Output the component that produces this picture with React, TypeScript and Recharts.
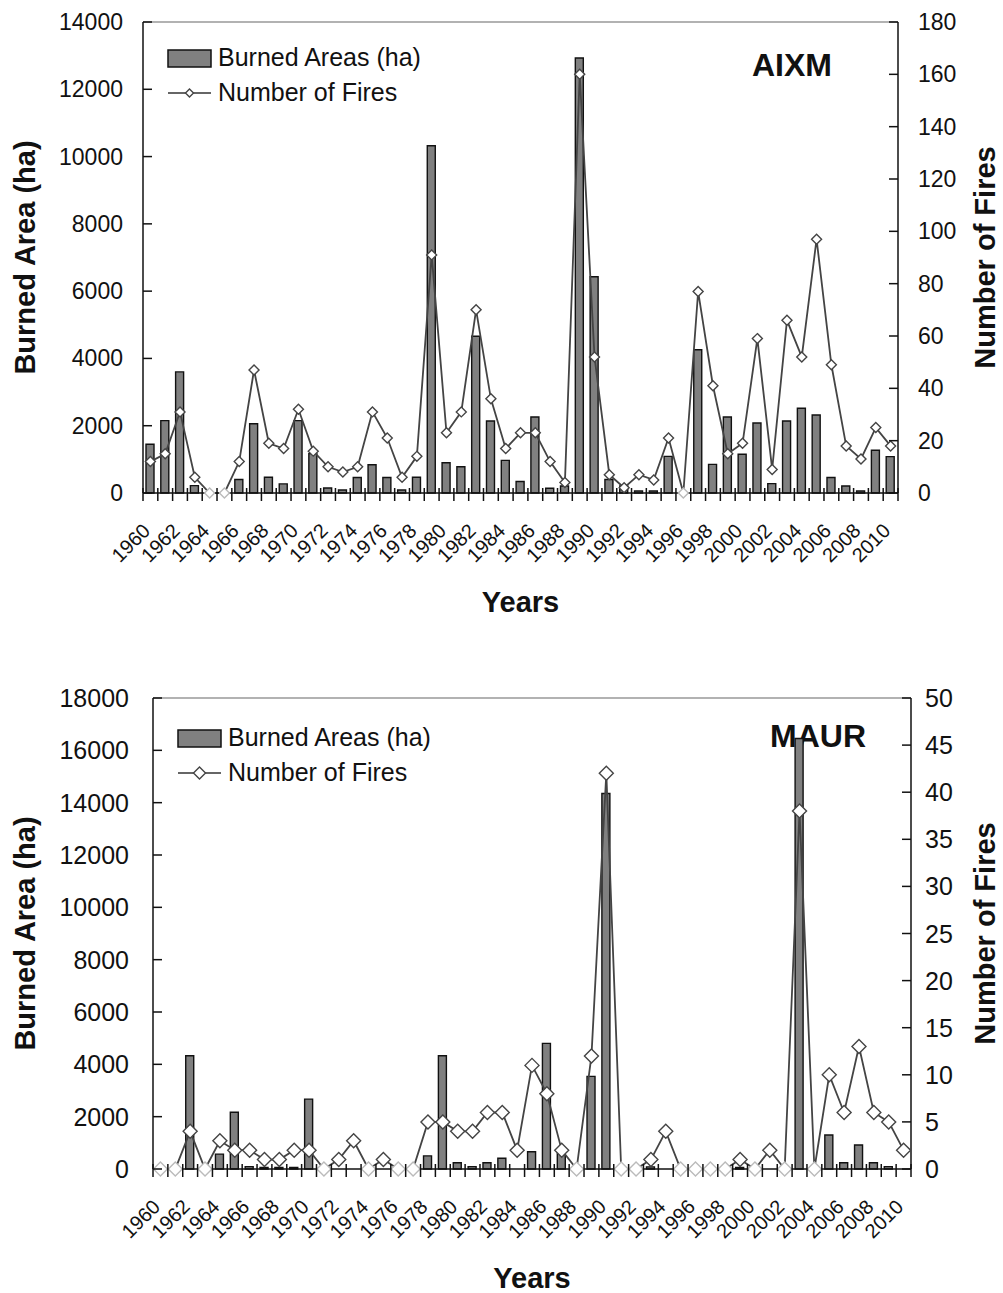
import React from "react";
import {
  Bar,
  ComposedChart,
  Label,
  Legend,
  Line,
  ReferenceLine,
  XAxis,
  YAxis
} from "recharts";

const FONT = '"Liberation Sans", Arial, sans-serif';

const years = [
  1960, 1961, 1962, 1963, 1964, 1965, 1966, 1967, 1968, 1969,
  1970, 1971, 1972, 1973, 1974, 1975, 1976, 1977, 1978, 1979,
  1980, 1981, 1982, 1983, 1984, 1985, 1986, 1987, 1988, 1989,
  1990, 1991, 1992, 1993, 1994, 1995, 1996, 1997, 1998, 1999,
  2000, 2001, 2002, 2003, 2004, 2005, 2006, 2007, 2008, 2009, 2010
];

// AIXM
const aixmArea = [
  1450, 2150, 3600, 220, 0, 0, 400, 2060, 470, 270,
  2150, 1170, 150, 90, 460, 840, 460, 90, 470, 10320,
  900, 780, 4660, 2140, 970, 340, 2260, 140, 210, 12930,
  6430, 400, 210, 60, 60, 1090, 0, 4260, 850, 2260,
  1150, 2080, 280, 2140, 2520, 2320, 460, 210, 60, 1270, 1080
];
const aixmFires = [
  12, 15, 31, 6, 0, 0, 12, 47, 19, 17,
  32, 16, 10, 8, 10, 31, 21, 6, 14, 91,
  23, 31, 70, 36, 17, 23, 23, 12, 4, 160,
  52, 7, 2, 7, 5, 21, 0, 77, 41, 15,
  19, 59, 9, 66, 52, 97, 49, 18, 13, 25, 18
];

// MAUR
const maurArea = [
  0, 0, 4330, 0, 570, 2170, 90, 60, 60, 60,
  2670, 0, 0, 0, 0, 0, 0, 0, 500, 4330,
  240, 90, 240, 410, 0, 660, 4800, 650, 0, 3540,
  14350, 0, 0, 80, 0, 50, 0, 0, 0, 60,
  0, 0, 0, 16450, 0, 1300, 240, 920, 240, 90, 0
];
const maurFires = [
  0, 0, 4, 0, 3, 2, 2, 1, 1, 2,
  2, 0, 1, 3, 0, 1, 0, 0, 5, 5,
  4, 4, 6, 6, 2, 11, 8, 2, 0, 12,
  42, 0, 0, 1, 4, 0, 0, 0, 0, 1,
  0, 2, 0, 38, 0, 10, 6, 13, 6, 5, 2
];

const aixmAreaTicks = [0, 2000, 4000, 6000, 8000, 10000, 12000, 14000];
const aixmFireTicks = [0, 20, 40, 60, 80, 100, 120, 140, 160, 180];
const maurAreaTicks = [0, 2000, 4000, 6000, 8000, 10000, 12000, 14000, 16000, 18000];
const maurFireTicks = [0, 5, 10, 15, 20, 25, 30, 35, 40, 45, 50];

const AREA_NAME = "Burned Areas (ha)";
const FIRES_NAME = "Number of Fires";

// tick marks sit between the years, labels every second year
const boundaryTicks = [years[0] - 0.5, ...years.map((y) => y + 0.5)];
const labelYears = years.filter((y) => y % 2 === 0);
const xTicks = [...boundaryTicks, ...labelYears].sort((a, b) => a - b);
const xDomain = [years[0] - 0.5, years[years.length - 1] + 0.5];

const aixmRows = years.map((year, i) => ({ year, area: aixmArea[i], fires: aixmFires[i] }));
const maurRows = years.map((year, i) => ({ year, area: maurArea[i], fires: maurFires[i] }));

function XTick(props: any) {
  const { x, y, payload, fontSize } = props;
  const v = payload.value;
  if (Number.isInteger(v)) {
    const ax = x + 1;
    const ay = y + 39;
    return (
      <text
        x={ax}
        y={ay}
        textAnchor="end"
        fontSize={fontSize}
        fontFamily={FONT}
        fill="#111"
        transform={`rotate(-45 ${ax} ${ay})`}
      >
        {v}
      </text>
    );
  }
  return <line x1={x} x2={x} y1={y - 5} y2={y + 8} stroke="#111" strokeWidth={1.5} />;
}

function LeftTick(props: any) {
  const { x, y, payload, fontSize, gap } = props;
  return (
    <g>
      <line x1={x} x2={x + 9} y1={y} y2={y} stroke="#111" strokeWidth={1.5} />
      <text x={x - gap} y={y} textAnchor="end" dominantBaseline="central" fontSize={fontSize} fontFamily={FONT} fill="#111">
        {payload.value}
      </text>
    </g>
  );
}

function RightTick(props: any) {
  const { x, y, payload, fontSize, gap } = props;
  return (
    <g>
      <line x1={x - 9} x2={x} y1={y} y2={y} stroke="#111" strokeWidth={1.5} />
      <text x={x + gap} y={y} textAnchor="start" dominantBaseline="central" fontSize={fontSize} fontFamily={FONT} fill="#111">
        {payload.value}
      </text>
    </g>
  );
}

function Diamond(props: any) {
  const { cx, cy, value, size } = props;
  if (cx == null || cy == null) return null;
  const s = size;
  const faded = value === 0;
  return (
    <path
      d={`M${cx},${cy - s}L${cx + s},${cy}L${cx},${cy + s}L${cx - s},${cy}Z`}
      fill="#fff"
      stroke={faded ? "#bbb" : "#444"}
      strokeWidth={1.4}
    />
  );
}

function LegendBox(props: any) {
  const { payload, size } = props;
  const areaName = payload?.find((p: any) => p.dataKey === "area")?.value ?? AREA_NAME;
  const firesName = payload?.find((p: any) => p.dataKey === "fires")?.value ?? FIRES_NAME;
  return (
    <svg width={330} height={70} style={{ overflow: "visible" }}>
      <rect x={8} y={10} width={43} height={17} fill="#808080" stroke="#111" strokeWidth={1.5} />
      <text x={58} y={26} fontSize={25} fontFamily={FONT} fill="#111">
        {areaName}
      </text>
      <line x1={8} x2={51} y1={53} y2={53} stroke="#333" strokeWidth={1.6} />
      <path
        d={`M29.5,${53 - size}L${29.5 + size},53L29.5,${53 + size}L${29.5 - size},53Z`}
        fill="#fff"
        stroke="#444"
        strokeWidth={1.4}
      />
      <text x={58} y={61} fontSize={25} fontFamily={FONT} fill="#111">
        {firesName}
      </text>
    </svg>
  );
}

const titleStyle = { fontSize: 29, fontWeight: 700, fontFamily: FONT, fill: "#111" };

function leftTitle(dx: number) {
  return (props: any) => {
    const vb = props.viewBox;
    const cx = vb.x + dx;
    const cy = vb.y + vb.height / 2;
    return (
      <text x={cx} y={cy} textAnchor="middle" dominantBaseline="central" transform={`rotate(-90 ${cx} ${cy})`} style={titleStyle}>
        Burned Area (ha)
      </text>
    );
  };
}

function rightTitle(dx: number) {
  return (props: any) => {
    const vb = props.viewBox;
    const cx = vb.x + dx;
    const cy = vb.y + vb.height / 2;
    return (
      <text x={cx} y={cy} textAnchor="middle" dominantBaseline="central" transform={`rotate(-90 ${cx} ${cy})`} style={titleStyle}>
        Number of Fires
      </text>
    );
  };
}

function yearsTitle(props: any) {
  const vb = props.viewBox;
  return (
    <text x={vb.x + vb.width / 2} y={vb.y + 119} textAnchor="middle" style={titleStyle}>
      Years
    </text>
  );
}

interface FirePanelProps {
  rows: Array<{ year: number; area: number; fires: number }>;
  name: string;
  top: number;
  height: number;
  marginTop: number;
  leftWidth: number;
  rightWidth: number;
  xHeight: number;
  areaTicks: number[];
  fireTicks: number[];
  tickFont: number;
  leftGap: number;
  rightGap: number;
  rightTitleDx: number;
  markerSize: number;
  legendPos: { left: number; top: number };
  namePos: { left: number; top: number };
}

function FirePanel(p: FirePanelProps) {
  const areaMax = p.areaTicks[p.areaTicks.length - 1];
  const fireMax = p.fireTicks[p.fireTicks.length - 1];
  return (
    <div style={{ position: "absolute", left: 0, top: p.top, width: 1003, height: p.height }}>
      <div
        style={{
          position: "absolute",
          left: p.namePos.left,
          top: p.namePos.top,
          fontFamily: FONT,
          fontWeight: 700,
          fontSize: 32,
          lineHeight: "32px",
          color: "#111"
        }}
      >
        {p.name}
      </div>
      <ComposedChart
        width={1003}
        height={p.height}
        data={p.rows}
        margin={{ top: p.marginTop, right: 0, bottom: 0, left: 0 }}
      >
        <XAxis
          dataKey="year"
          type="number"
          domain={xDomain}
          ticks={xTicks}
          interval={0}
          allowDataOverflow
          height={p.xHeight}
          tickLine={false}
          tickSize={0}
          tickMargin={0}
          tick={<XTick fontSize={20} />}
          axisLine={{ stroke: "#111", strokeWidth: 1.5 }}
        >
          <Label content={yearsTitle} />
        </XAxis>
        <YAxis
          yAxisId="left"
          width={p.leftWidth}
          domain={[0, areaMax]}
          ticks={p.areaTicks}
          interval={0}
          tickLine={false}
          tickSize={0}
          tickMargin={0}
          tick={<LeftTick fontSize={p.tickFont} gap={p.leftGap} />}
          axisLine={{ stroke: "#111", strokeWidth: 1.5 }}
        >
          <Label content={leftTitle(25)} />
        </YAxis>
        <YAxis
          yAxisId="right"
          orientation="right"
          width={p.rightWidth}
          domain={[0, fireMax]}
          ticks={p.fireTicks}
          interval={0}
          tickLine={false}
          tickSize={0}
          tickMargin={0}
          tick={<RightTick fontSize={p.tickFont} gap={p.rightGap} />}
          axisLine={{ stroke: "#111", strokeWidth: 1.5 }}
        >
          <Label content={rightTitle(p.rightTitleDx)} />
        </YAxis>
        <ReferenceLine yAxisId="left" y={areaMax} stroke="#999" strokeWidth={1.5} />
        <Legend
          layout="vertical"
          align="center"
          verticalAlign="middle"
          wrapperStyle={{ left: p.legendPos.left, top: p.legendPos.top, width: 330, height: 70 }}
          content={<LegendBox size={p.markerSize - 1} />}
        />
        <Bar
          yAxisId="left"
          dataKey="area"
          name={AREA_NAME}
          barSize={8}
          fill="#808080"
          stroke="#111"
          strokeWidth={1.4}
          isAnimationActive={false}
        />
        <Line
          yAxisId="right"
          dataKey="fires"
          name={FIRES_NAME}
          type="linear"
          stroke="#444"
          strokeWidth={1.8}
          dot={<Diamond size={p.markerSize} />}
          activeDot={false}
          isAnimationActive={false}
        />
      </ComposedChart>
    </div>
  );
}

export default function App() {
  return (
    <div style={{ position: "absolute", left: 0, top: 0, width: 1003, height: 1293, background: "#fff", fontFamily: FONT }}>
      <FirePanel
        rows={aixmRows}
        name="AIXM"
        top={0}
        height={620}
        marginTop={22}
        leftWidth={143}
        rightWidth={105}
        xHeight={127}
        areaTicks={aixmAreaTicks}
        fireTicks={aixmFireTicks}
        tickFont={23}
        leftGap={20}
        rightGap={20}
        rightTitleDx={87}
        markerSize={5}
        legendPos={{ left: 160, top: 40 }}
        namePos={{ left: 752, top: 49 }}
      />
      <FirePanel
        rows={maurRows}
        name="MAUR"
        top={660}
        height={633}
        marginTop={38}
        leftWidth={153}
        rightWidth={92}
        xHeight={124}
        areaTicks={maurAreaTicks}
        fireTicks={maurFireTicks}
        tickFont={25}
        leftGap={24}
        rightGap={14}
        rightTitleDx={74}
        markerSize={7}
        legendPos={{ left: 170, top: 60 }}
        namePos={{ left: 770, top: 60 }}
      />
    </div>
  );
}
